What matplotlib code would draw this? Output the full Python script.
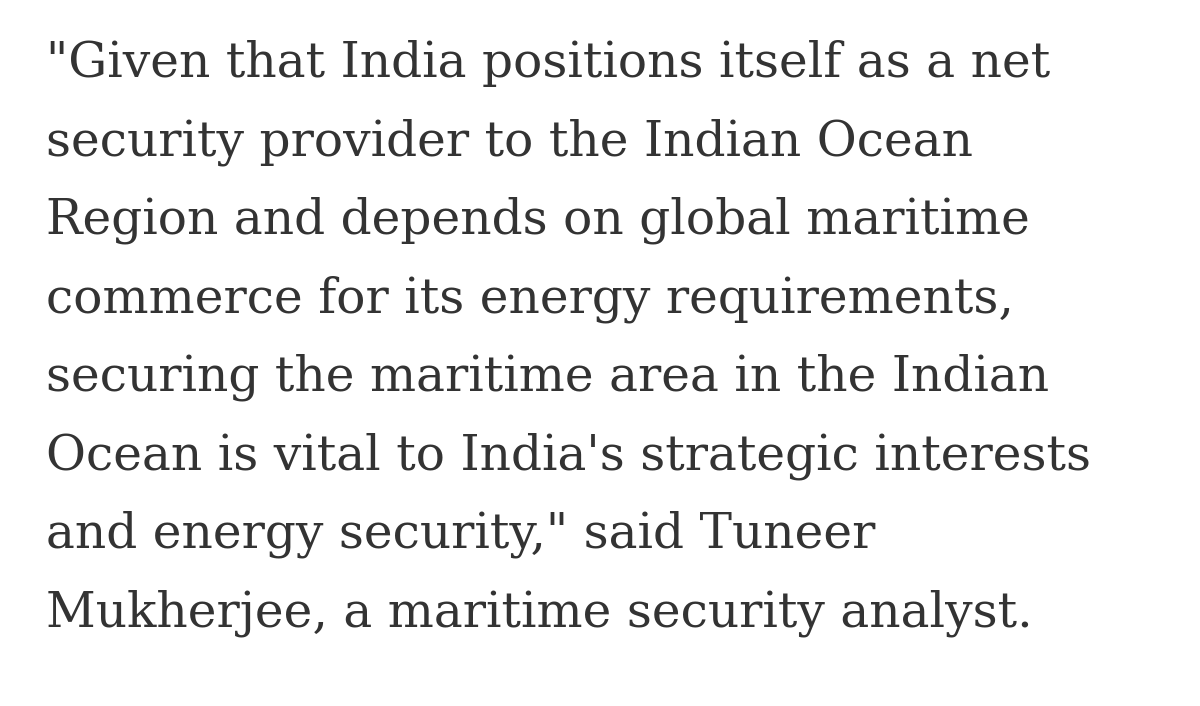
import matplotlib
matplotlib.use("Agg")
import matplotlib.pyplot as plt

# Paragraph lines as wrapped in the reference
lines = [
    "\"Given that India positions itself as a net",
    "security provider to the Indian Ocean",
    "Region and depends on global maritime",
    "commerce for its energy requirements,",
    "securing the maritime area in the Indian",
    "Ocean is vital to India's strategic interests",
    "and energy security,\" said Tuneer",
    "Mukherjee, a maritime security analyst.",
]

W, H = 1200, 706
fig = plt.figure(figsize=(W / 100, H / 100), dpi=100)
fig.patch.set_facecolor("white")

left_px = 46
first_baseline = 77
line_step = 78.5
target_width = 1005  # width of the first line in pixels

font = dict(family="DejaVu Serif", color="#333333")

# find a font size so the first line spans the same width
renderer = fig.canvas.get_renderer()
size = 30
probe = fig.text(0, 0, lines[0], fontsize=size, **font)
w = probe.get_window_extent(renderer).width
probe.remove()
size = size * target_width / w

for i, line in enumerate(lines):
    y = first_baseline + i * line_step
    fig.text(left_px / W, 1 - y / H, line, fontsize=size, ha="left",
             va="baseline", **font)

fig.savefig("out.png", dpi=100, facecolor="white")
